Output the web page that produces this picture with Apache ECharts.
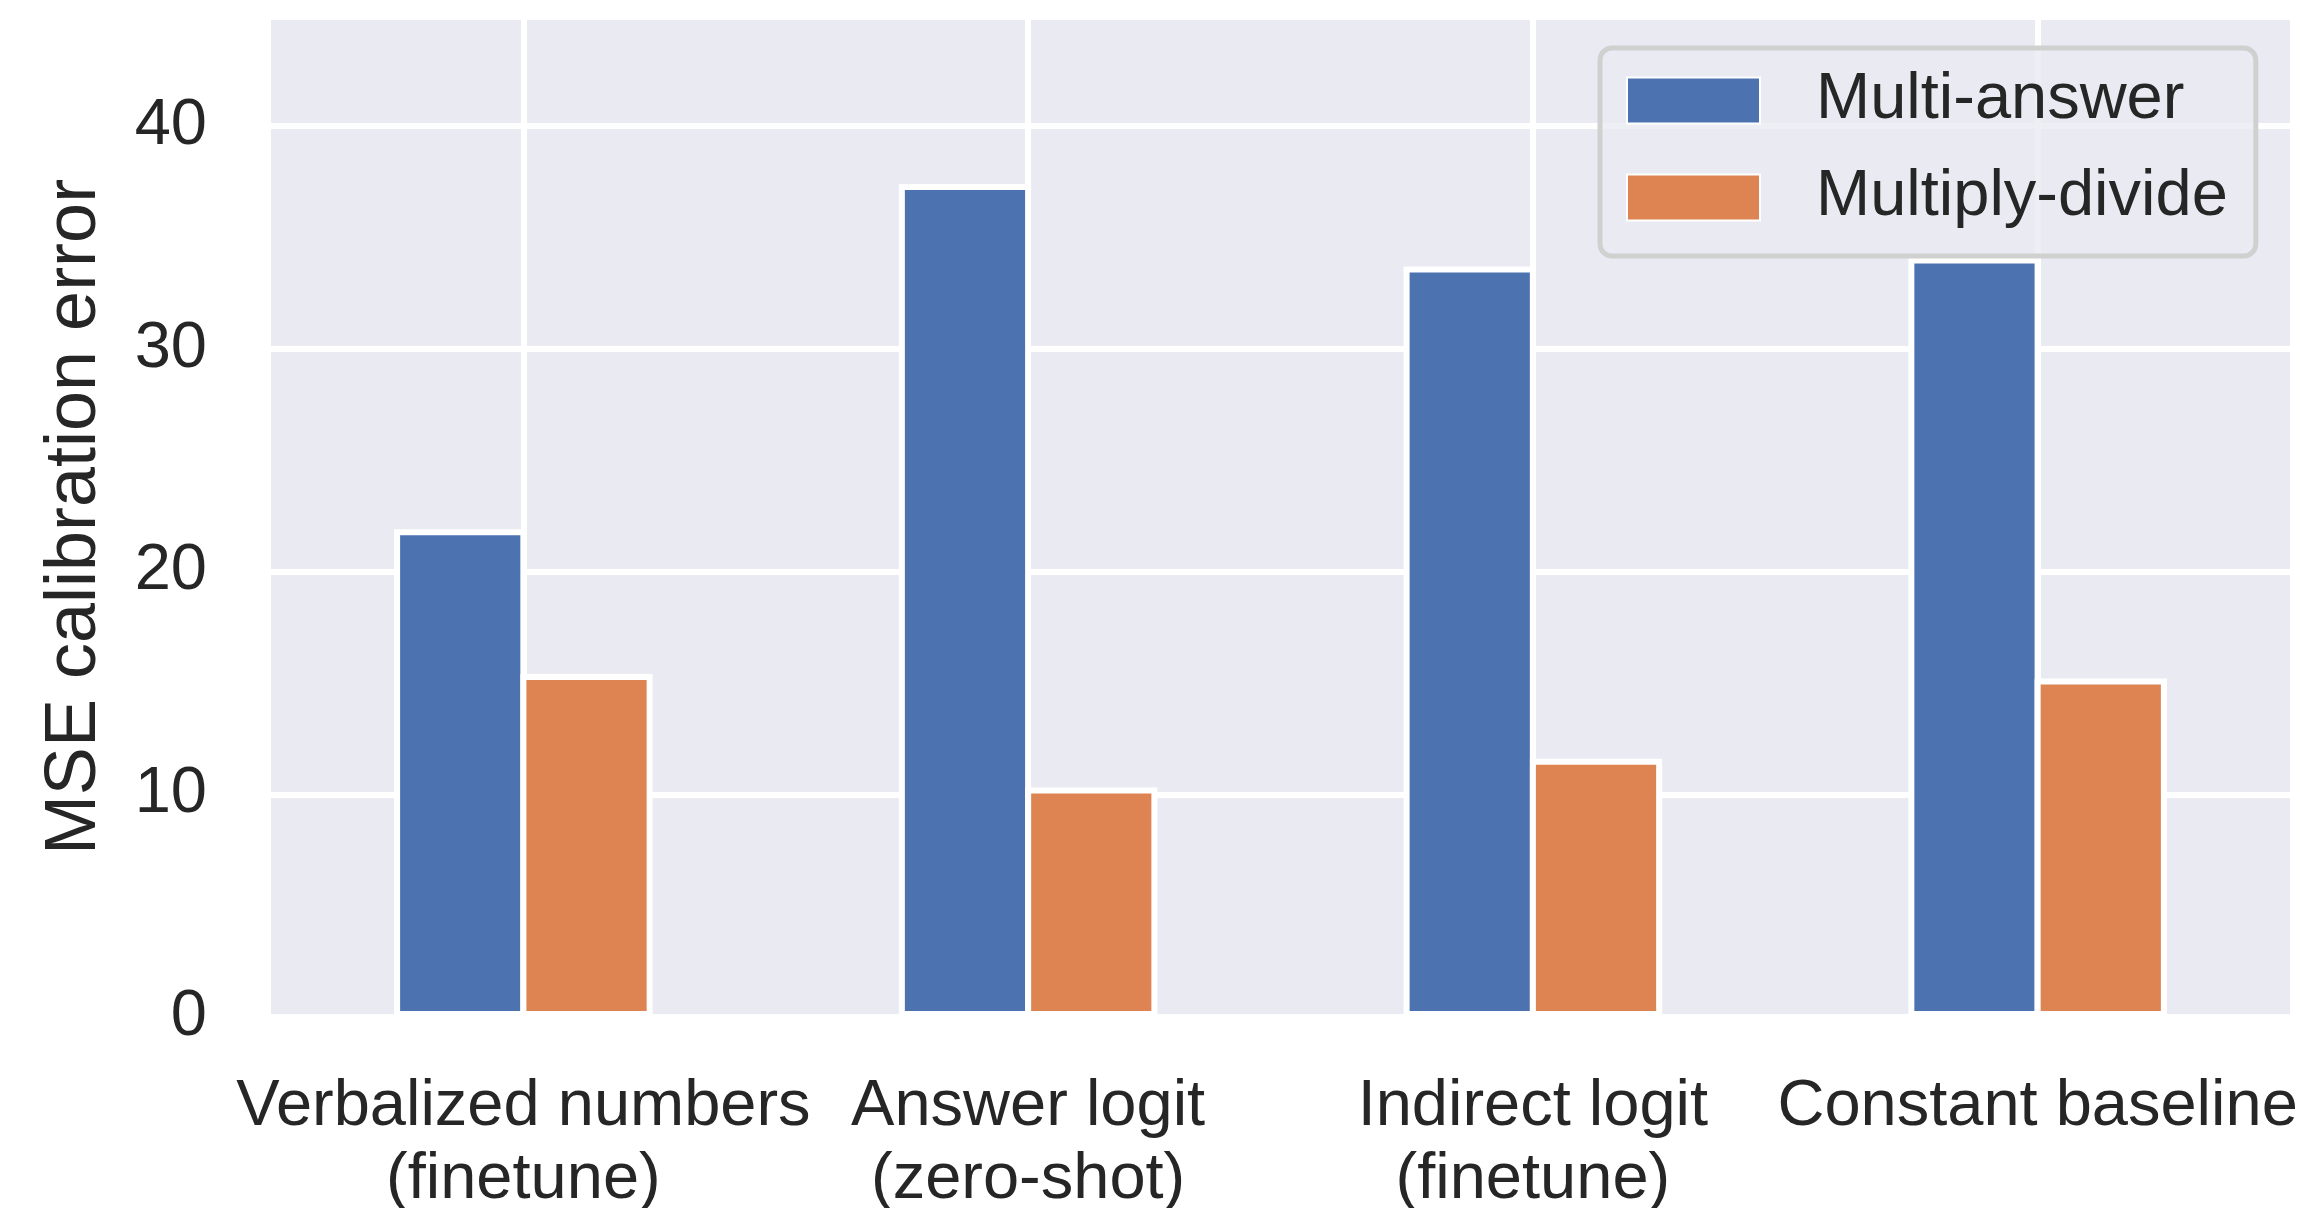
<!DOCTYPE html>
<html>
<head>
<meta charset="utf-8">
<script src="https://cdn.jsdelivr.net/npm/echarts@6/dist/echarts.min.js"></script>
<style>
  html, body { margin: 0; padding: 0; background: #ffffff; }
  #chart { width: 2316px; height: 1208px; }
</style>
</head>
<body>
<div id="chart"></div>
<script>
const categories = [
  'Verbalized numbers\n(finetune)',
  'Answer logit\n(zero-shot)',
  'Indirect logit\n(finetune)',
  'Constant baseline'
];
const multiAnswer = [21.9, 37.4, 33.7, 34.1];
const multiplyDivide = [15.4, 10.3, 11.6, 15.2];
const yTicks = [0, 10, 20, 30, 40];

const textColor = '#262626';
const font = '"Liberation Sans", Arial, sans-serif';

const chart = echarts.init(document.getElementById('chart'));

// echarts insets the border into the bar, so widen a bit and overlap the pair
const barStyle = (color) => ({
  color: color,
  borderColor: '#ffffff',
  borderWidth: 6
});

const option = {
  backgroundColor: '#ffffff',
  animation: false,
  textStyle: { fontFamily: font },
  grid: {
    left: 271,
    right: 26,
    top: 17,
    bottom: 191,
    outerBoundsMode: 'none',
    containLabel: false,
    show: true,
    backgroundColor: '#eaeaf2',
    borderWidth: 0
  },
  legend: {
    data: ['Multi-answer', 'Multiply-divide'],
    orient: 'vertical',
    left: 1600,
    top: 48,
    padding: [20, 28, 26, 26],
    itemWidth: 133,
    itemHeight: 46,
    itemGap: 32,
    icon: 'rect',
    backgroundColor: 'rgba(234, 234, 242, 0.8)',
    borderColor: '#d0d0d0',
    borderWidth: 5,
    borderRadius: 12,
    textStyle: {
      fontFamily: font,
      fontSize: 65,
      color: textColor,
      padding: [0, 0, 0, 51]
    }
  },
  xAxis: {
    type: 'category',
    data: categories,
    axisLine: { show: false },
    axisTick: { show: false },
    splitLine: { show: false },
    axisLabel: {
      interval: 0,
      margin: 54,
      fontFamily: font,
      fontSize: 65,
      lineHeight: 73,
      color: textColor
    }
  },
  yAxis: {
    type: 'value',
    min: 0,
    max: 44.9,
    interval: 10,
    name: 'MSE calibration error',
    nameLocation: 'middle',
    nameGap: 160,
    nameTextStyle: { fontFamily: font, fontSize: 72, color: textColor },
    axisLine: { show: false },
    axisTick: { show: false },
    axisLabel: {
      margin: 64,
      fontFamily: font,
      fontSize: 65,
      color: textColor,
      formatter: (v) => (yTicks.includes(v) ? String(v) : '')
    },
    splitLine: { lineStyle: { color: '#ffffff', width: 6 } }
  },
  series: [
    {
      // vertical grid lines at the category centres
      name: 'vgrid',
      type: 'line',
      data: [],
      silent: true,
      markLine: {
        silent: true,
        z: 1,
        symbol: ['none', 'none'],
        label: { show: false },
        lineStyle: { color: '#ffffff', width: 6, type: 'solid' },
        emphasis: { disabled: true },
        data: categories.map(c => ({ xAxis: c }))
      }
    },
    {
      name: 'Multi-answer',
      type: 'bar',
      data: multiAnswer,
      barWidth: '26.2%',
      barGap: '-4.5%',
      itemStyle: barStyle('#4c72b0')
    },
    {
      name: 'Multiply-divide',
      type: 'bar',
      data: multiplyDivide,
      barWidth: '26.2%',
      barGap: '-4.5%',
      itemStyle: barStyle('#dd8452')
    }
  ]
};

chart.setOption(option);
</script>
</body>
</html>
